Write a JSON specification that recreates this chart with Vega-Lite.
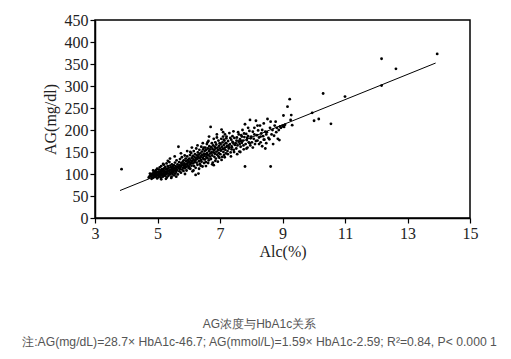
{
  "$schema": "https://vega.github.io/schema/vega-lite/v6.json",
  "width": 375,
  "height": 198,
  "autosize": "none",
  "padding": {"left": 95, "top": 20, "right": 41, "bottom": 141},
  "background": "white",
  "config": {
    "view": {"stroke": "black", "strokeWidth": 1.5},
    "axis": {"grid": false, "domainColor": "black", "domainWidth": 1.5, "tickColor": "black", "tickWidth": 1.2, "tickSize": 5,
      "labelFont": "Liberation Serif", "labelFontSize": 16, "labelColor": "#222", "labelOverlap": false, "labelBound": false, "labelFlush": false,
      "titleFont": "Liberation Serif", "titleFontSize": 16, "titleFontWeight": "normal", "titleColor": "#222", "labelPadding": 2}
  },
  "title": {
    "text": "AG浓度与HbA1c关系",
    "subtitle": "注:AG(mg/dL)=28.7× HbA1c-46.7; AG(mmol/L)=1.59× HbA1c-2.59; R²=0.84, P< 0.000 1",
    "orient": "bottom",
    "anchor": "middle",
    "offset": 60,
    "dx": -23,
    "font": "Liberation Sans",
    "fontSize": 12,
    "fontWeight": "normal",
    "color": "#555",
    "subtitleFont": "Liberation Sans",
    "subtitleFontSize": 12.2,
    "subtitleColor": "#555",
    "subtitlePadding": 5
  },
  "datasets": {
    "pts": [
      {"x":4.72,"y":92},{"x":4.75,"y":95},{"x":4.78,"y":98},{"x":4.8,"y":94},{"x":4.82,"y":100},{"x":4.84,"y":97},{"x":4.85,"y":91},{"x":4.87,"y":103},{"x":4.88,"y":96},{"x":4.9,"y":99},{"x":4.91,"y":93},{"x":4.92,"y":106},{"x":4.93,"y":101},{"x":4.95,"y":97},{"x":4.95,"y":109},{"x":4.96,"y":94},{"x":4.97,"y":103},{"x":4.98,"y":99},{"x":4.99,"y":112},{"x":4.99,"y":90},{"x":4.86,"y":108},{"x":4.81,"y":89},{"x":4.94,"y":104},{"x":4.76,"y":101},{"x":4.89,"y":95},
      {"x":5.01,"y":98},{"x":5.02,"y":105},{"x":5.03,"y":93},{"x":5.04,"y":110},{"x":5.05,"y":101},{"x":5.06,"y":96},{"x":5.07,"y":115},{"x":5.08,"y":104},{"x":5.09,"y":99},{"x":5.1,"y":108},{"x":5.1,"y":92},{"x":5.11,"y":102},{"x":5.12,"y":118},{"x":5.13,"y":97},{"x":5.14,"y":106},{"x":5.15,"y":111},{"x":5.16,"y":100},{"x":5.17,"y":94},{"x":5.18,"y":109},{"x":5.19,"y":103},{"x":5.2,"y":121},{"x":5.2,"y":98},{"x":5.21,"y":107},{"x":5.22,"y":113},{"x":5.23,"y":101},{"x":5.24,"y":96},{"x":5.25,"y":116},{"x":5.26,"y":105},{"x":5.27,"y":110},{"x":5.28,"y":99},{"x":5.29,"y":124},{"x":5.3,"y":103},{"x":5.3,"y":92},{"x":5.31,"y":112},{"x":5.32,"y":107},{"x":5.33,"y":118},{"x":5.34,"y":101},{"x":5.35,"y":96},{"x":5.36,"y":114},{"x":5.37,"y":108},{"x":5.38,"y":127},{"x":5.39,"y":104},{"x":5.4,"y":99},{"x":5.41,"y":119},{"x":5.42,"y":110},{"x":5.43,"y":102},{"x":5.44,"y":115},{"x":5.45,"y":94},{"x":5.46,"y":122},{"x":5.46,"y":106},{"x":5.47,"y":112},{"x":5.48,"y":100},{"x":5.49,"y":117},{"x":5.49,"y":108},{"x":5.12,"y":88},{"x":5.27,"y":89},{"x":5.44,"y":91},{"x":5.33,"y":130},{"x":5.18,"y":123},{"x":5.4,"y":135},
      {"x":5.5,"y":111},{"x":5.51,"y":104},{"x":5.52,"y":120},{"x":5.53,"y":97},{"x":5.54,"y":114},{"x":5.55,"y":108},{"x":5.56,"y":126},{"x":5.57,"y":101},{"x":5.58,"y":118},{"x":5.59,"y":112},{"x":5.6,"y":105},{"x":5.61,"y":131},{"x":5.62,"y":115},{"x":5.63,"y":109},{"x":5.64,"y":122},{"x":5.65,"y":99},{"x":5.66,"y":117},{"x":5.67,"y":162},{"x":5.68,"y":113},{"x":5.69,"y":127},{"x":5.7,"y":106},{"x":5.71,"y":120},{"x":5.72,"y":134},{"x":5.73,"y":111},{"x":5.74,"y":116},{"x":5.75,"y":103},{"x":5.76,"y":125},{"x":5.77,"y":119},{"x":5.78,"y":138},{"x":5.79,"y":110},{"x":5.8,"y":122},{"x":5.81,"y":128},{"x":5.82,"y":114},{"x":5.83,"y":107},{"x":5.84,"y":131},{"x":5.85,"y":118},{"x":5.86,"y":124},{"x":5.87,"y":142},{"x":5.88,"y":113},{"x":5.89,"y":121},{"x":5.9,"y":135},{"x":5.91,"y":116},{"x":5.92,"y":129},{"x":5.93,"y":108},{"x":5.94,"y":123},{"x":5.95,"y":140},{"x":5.96,"y":119},{"x":5.97,"y":132},{"x":5.98,"y":126},{"x":5.99,"y":114},{"x":5.6,"y":94},{"x":5.75,"y":147},{"x":5.88,"y":100},{"x":5.55,"y":140},{"x":5.95,"y":152},
      {"x":6.0,"y":128},{"x":6.01,"y":117},{"x":6.02,"y":135},{"x":6.03,"y":122},{"x":6.04,"y":143},{"x":6.05,"y":112},{"x":6.06,"y":131},{"x":6.07,"y":125},{"x":6.08,"y":148},{"x":6.09,"y":119},{"x":6.1,"y":137},{"x":6.11,"y":129},{"x":6.12,"y":106},{"x":6.13,"y":141},{"x":6.14,"y":124},{"x":6.15,"y":133},{"x":6.16,"y":152},{"x":6.17,"y":118},{"x":6.18,"y":139},{"x":6.19,"y":127},{"x":6.2,"y":145},{"x":6.21,"y":131},{"x":6.22,"y":114},{"x":6.23,"y":136},{"x":6.24,"y":158},{"x":6.25,"y":126},{"x":6.26,"y":142},{"x":6.27,"y":134},{"x":6.28,"y":121},{"x":6.29,"y":149},{"x":6.3,"y":138},{"x":6.31,"y":101},{"x":6.32,"y":144},{"x":6.33,"y":129},{"x":6.34,"y":155},{"x":6.35,"y":136},{"x":6.36,"y":123},{"x":6.37,"y":147},{"x":6.38,"y":140},{"x":6.39,"y":132},{"x":6.4,"y":162},{"x":6.41,"y":128},{"x":6.42,"y":151},{"x":6.43,"y":143},{"x":6.44,"y":117},{"x":6.45,"y":137},{"x":6.46,"y":156},{"x":6.47,"y":134},{"x":6.48,"y":146},{"x":6.49,"y":125},{"x":6.05,"y":150},{"x":6.15,"y":108},{"x":6.28,"y":165},{"x":6.38,"y":119},{"x":6.45,"y":170},{"x":6.22,"y":98},{"x":6.1,"y":160},{"x":6.33,"y":112},{"x":6.48,"y":160},{"x":6.02,"y":113},
      {"x":6.5,"y":141},{"x":6.51,"y":152},{"x":6.52,"y":133},{"x":6.53,"y":160},{"x":6.54,"y":145},{"x":6.55,"y":127},{"x":6.56,"y":155},{"x":6.57,"y":138},{"x":6.58,"y":168},{"x":6.59,"y":148},{"x":6.6,"y":136},{"x":6.61,"y":158},{"x":6.62,"y":143},{"x":6.63,"y":175},{"x":6.64,"y":131},{"x":6.65,"y":152},{"x":6.66,"y":163},{"x":6.67,"y":140},{"x":6.68,"y":156},{"x":6.69,"y":147},{"x":6.7,"y":207},{"x":6.71,"y":134},{"x":6.72,"y":161},{"x":6.73,"y":150},{"x":6.74,"y":170},{"x":6.75,"y":142},{"x":6.76,"y":157},{"x":6.77,"y":126},{"x":6.78,"y":165},{"x":6.79,"y":149},{"x":6.8,"y":180},{"x":6.81,"y":154},{"x":6.82,"y":139},{"x":6.83,"y":162},{"x":6.84,"y":146},{"x":6.85,"y":172},{"x":6.86,"y":158},{"x":6.87,"y":135},{"x":6.88,"y":167},{"x":6.89,"y":151},{"x":6.9,"y":183},{"x":6.91,"y":144},{"x":6.92,"y":160},{"x":6.93,"y":128},{"x":6.94,"y":155},{"x":6.95,"y":176},{"x":6.96,"y":148},{"x":6.97,"y":164},{"x":6.98,"y":137},{"x":6.99,"y":170},{"x":6.55,"y":118},{"x":6.65,"y":185},{"x":6.75,"y":122},{"x":6.85,"y":130},{"x":6.95,"y":140},{"x":6.6,"y":172},{"x":6.8,"y":120},{"x":6.9,"y":190},{"x":6.7,"y":135},{"x":6.62,"y":125},
      {"x":7.0,"y":158},{"x":7.01,"y":145},{"x":7.02,"y":168},{"x":7.03,"y":153},{"x":7.04,"y":180},{"x":7.05,"y":201},{"x":7.06,"y":162},{"x":7.07,"y":139},{"x":7.08,"y":172},{"x":7.09,"y":157},{"x":7.1,"y":185},{"x":7.11,"y":150},{"x":7.12,"y":166},{"x":7.13,"y":143},{"x":7.14,"y":176},{"x":7.15,"y":160},{"x":7.16,"y":190},{"x":7.17,"y":155},{"x":7.18,"y":170},{"x":7.19,"y":147},{"x":7.2,"y":181},{"x":7.22,"y":163},{"x":7.24,"y":152},{"x":7.26,"y":175},{"x":7.28,"y":158},{"x":7.3,"y":193},{"x":7.32,"y":168},{"x":7.34,"y":149},{"x":7.36,"y":178},{"x":7.38,"y":161},{"x":7.4,"y":186},{"x":7.42,"y":171},{"x":7.44,"y":155},{"x":7.46,"y":182},{"x":7.48,"y":166},{"x":7.05,"y":132},{"x":7.15,"y":138},{"x":7.25,"y":145},{"x":7.35,"y":140},{"x":7.45,"y":150},{"x":7.1,"y":195},{"x":7.2,"y":170},{"x":7.3,"y":160},{"x":7.4,"y":173},{"x":7.21,"y":185},{"x":7.33,"y":182},{"x":7.43,"y":197},{"x":7.12,"y":178},{"x":7.27,"y":165},{"x":7.37,"y":156},
      {"x":7.5,"y":170},{"x":7.52,"y":158},{"x":7.54,"y":183},{"x":7.56,"y":165},{"x":7.58,"y":195},{"x":7.6,"y":174},{"x":7.62,"y":151},{"x":7.64,"y":179},{"x":7.66,"y":162},{"x":7.68,"y":188},{"x":7.7,"y":171},{"x":7.72,"y":200},{"x":7.74,"y":176},{"x":7.76,"y":156},{"x":7.78,"y":184},{"x":7.8,"y":213},{"x":7.8,"y":117},{"x":7.82,"y":168},{"x":7.84,"y":191},{"x":7.86,"y":177},{"x":7.88,"y":160},{"x":7.9,"y":186},{"x":7.92,"y":172},{"x":7.94,"y":198},{"x":7.96,"y":223},{"x":7.98,"y":181},{"x":7.55,"y":145},{"x":7.65,"y":150},{"x":7.75,"y":165},{"x":7.85,"y":158},{"x":7.95,"y":170},{"x":7.6,"y":190},{"x":7.7,"y":185},{"x":7.9,"y":205},{"x":7.53,"y":176},{"x":7.67,"y":175},{"x":7.77,"y":192},{"x":7.87,"y":182},{"x":7.97,"y":165},{"x":7.63,"y":168},
      {"x":8.0,"y":185},{"x":8.02,"y":172},{"x":8.05,"y":196},{"x":8.08,"y":180},{"x":8.1,"y":205},{"x":8.12,"y":168},{"x":8.15,"y":221},{"x":8.18,"y":188},{"x":8.2,"y":176},{"x":8.22,"y":199},{"x":8.25,"y":183},{"x":8.28,"y":210},{"x":8.3,"y":172},{"x":8.32,"y":192},{"x":8.35,"y":163},{"x":8.38,"y":186},{"x":8.4,"y":215},{"x":8.42,"y":178},{"x":8.45,"y":196},{"x":8.48,"y":170},{"x":8.05,"y":160},{"x":8.15,"y":175},{"x":8.25,"y":168},{"x":8.35,"y":200},{"x":8.45,"y":158},{"x":8.1,"y":190},{"x":8.2,"y":210},{"x":8.3,"y":185},{"x":8.4,"y":178},{"x":8.48,"y":190},
      {"x":8.5,"y":195},{"x":8.52,"y":225},{"x":8.55,"y":182},{"x":8.58,"y":179},{"x":8.6,"y":205},{"x":8.62,"y":219},{"x":8.62,"y":117},{"x":8.65,"y":190},{"x":8.68,"y":200},{"x":8.7,"y":168},{"x":8.73,"y":187},{"x":8.75,"y":210},{"x":8.78,"y":219},{"x":8.8,"y":195},{"x":8.82,"y":205},{"x":8.85,"y":180},{"x":8.88,"y":200},{"x":8.9,"y":177},{"x":8.92,"y":208},{"x":8.95,"y":205},
      {"x":9.0,"y":210},{"x":9.02,"y":208},{"x":9.05,"y":207},{"x":9.08,"y":212},{"x":9.03,"y":233},{"x":9.16,"y":253},{"x":9.23,"y":270},{"x":9.28,"y":234},{"x":9.26,"y":223},{"x":9.31,"y":211},
      {"x":9.95,"y":239},{"x":10.01,"y":221},{"x":10.16,"y":225},{"x":10.55,"y":214},{"x":10.3,"y":283},{"x":11.0,"y":276},{"x":12.17,"y":301},{"x":12.17,"y":362},{"x":12.63,"y":339},{"x":13.95,"y":373},{"x":3.85,"y":111}
    ],
    "fit": [{"x": 3.8, "y": 62.4}, {"x": 13.9, "y": 352.2}]
  },
  "encoding": {
    "x": {"field": "x", "type": "quantitative", "scale": {"domain": [3, 15], "nice": false, "zero": false},
      "axis": {"values": [3, 5, 7, 9, 11, 13, 15], "title": "Alc(%)", "titlePadding": 2}},
    "y": {"field": "y", "type": "quantitative", "scale": {"domain": [0, 450], "nice": false, "zero": false},
      "axis": {"values": [0, 50, 100, 150, 200, 250, 300, 350, 400, 450], "tickCount": 10, "title": "AG(mg/dl)", "titlePadding": 6}}
  },
  "layer": [
    {
      "data": {"name": "pts"},
      "mark": {"type": "circle", "size": 8, "color": "black", "opacity": 1}
    },
    {
      "data": {"name": "fit"},
      "mark": {"type": "line", "color": "black", "strokeWidth": 1}
    }
  ]
}
